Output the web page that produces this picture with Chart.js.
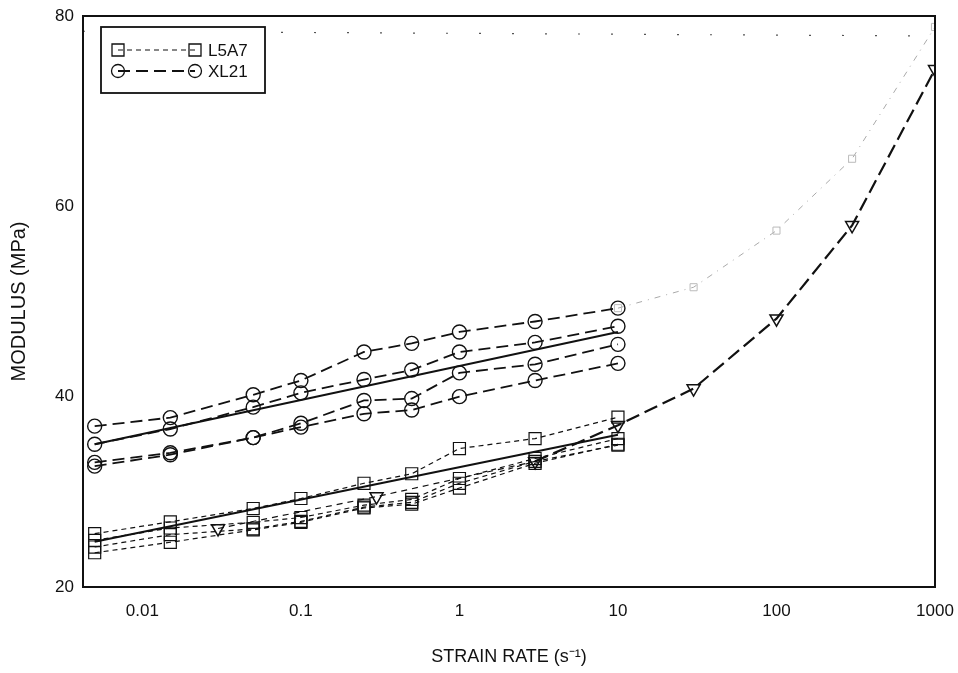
<!DOCTYPE html>
<html>
<head>
<meta charset="utf-8">
<script src="https://cdn.jsdelivr.net/npm/chart.js@4.4.1/dist/chart.umd.min.js"></script>
<style>
  body { margin: 0; background: #fff; }
  #wrap { width: 958px; height: 673px; }
</style>
</head>
<body>
<div id="wrap"><canvas id="myChart" width="958" height="673"></canvas></div>
<script>
    // strain rates of the quasi-static tests (s^-1)
    var rates = [0.005, 0.015, 0.05, 0.1, 0.25, 0.5, 1, 3, 10];

    // XL21 foam, four test runs
    var xl21RunA = [36.9, 37.8, 40.2, 41.7, 44.7, 45.6, 46.8, 47.9, 49.3];
    var xl21RunB = [35.0, 36.6, 38.9, 40.4, 41.8, 42.8, 44.7, 45.7, 47.4];
    var xl21RunC = [33.1, 34.1, 35.7, 37.2, 39.6, 39.8, 42.5, 43.4, 45.5];
    var xl21RunD = [32.7, 33.9, 35.7, 36.8, 38.2, 38.6, 40.0, 41.7, 43.5];
    var xl21FitRates = [0.005, 10];
    var xl21Fit = [35.0, 46.8];

    // L5A7 foam, four test runs
    var l5a7RunA = [25.6, 26.85, 28.25, 29.3, 30.9, 31.9, 34.55, 35.6, 37.85];
    var l5a7RunB = [24.9, 26.2, 26.8, 27.3, 28.6, 29.2, 31.4, 33.5, 35.6];
    var l5a7RunC = [24.2, 25.5, 26.1, 26.9, 28.4, 28.9, 30.9, 33.2, 34.9];
    var l5a7RunD = [23.6, 24.7, 26.0, 26.8, 28.3, 28.7, 30.4, 33.0, 35.0];
    var l5a7FitRates = [0.005, 10];
    var l5a7Fit = [24.75, 36.0];

    // high rate curve (triangles)
    var highRates = [0.03, 0.3, 3, 10, 30, 100, 300, 1000];
    var highModulus = [26.15, 29.5, 33.2, 37.0, 40.85, 48.2, 58.0, 74.4];

    // faint grey continuation of the top XL21 run
    var greyRates = [10, 30, 100, 300, 1000];
    var greyModulus = [49.3, 51.5, 57.45, 65.0, 78.85];

    // dotted reference line near the top
    var refRates = [0.00422, 1000];
    var refModulus = [78.4, 77.9];

    var xTickValues = [0.01, 0.1, 1, 10, 100, 1000];
    var xTickLabels = ['0.01', '0.1', '1', '10', '100', '1000'];
    var legendNames = ['L5A7', 'XL21'];

    function toPoints(xs, ys) {
        var pts = [];
        for (var i = 0; i < xs.length; i++) {
            pts.push({ x: xs[i], y: ys[i] });
        }
        return pts;
    }

    var ink = '#111';
    var none = 'rgba(0,0,0,0)';

    function circleRun(ys) {
        return {
            data: toPoints(rates, ys),
            showLine: true,
            borderColor: ink,
            borderWidth: 1.8,
            borderDash: [12, 6],
            pointStyle: 'circle',
            pointRadius: 7,
            pointBorderWidth: 1.4,
            pointBorderColor: ink,
            pointBackgroundColor: none,
        };
    }

    function squareRun(ys) {
        return {
            data: toPoints(rates, ys),
            showLine: true,
            borderColor: ink,
            borderWidth: 1.2,
            borderDash: [5, 4],
            pointStyle: 'rect',
            pointRadius: 8.5,
            pointBorderWidth: 1.2,
            pointBorderColor: ink,
            pointBackgroundColor: none,
        };
    }

    var datasets = [
        {
            data: toPoints(refRates, refModulus),
            showLine: true,
            borderColor: '#555',
            borderWidth: 1.2,
            borderDash: [2, 31],
            pointRadius: 0,
        },
        {
            data: toPoints(greyRates, greyModulus),
            showLine: true,
            borderColor: '#aaa',
            borderWidth: 1,
            borderDash: [6, 6, 1, 6],
            pointStyle: 'rect',
            pointRadius: 5,
            pointBorderWidth: 1,
            pointBorderColor: '#bbb',
            pointBackgroundColor: none,
        },
        circleRun(xl21RunA),
        circleRun(xl21RunB),
        circleRun(xl21RunC),
        circleRun(xl21RunD),
        {
            data: toPoints(xl21FitRates, xl21Fit),
            showLine: true,
            borderColor: ink,
            borderWidth: 2,
            pointRadius: 0,
        },
        squareRun(l5a7RunA),
        squareRun(l5a7RunB),
        squareRun(l5a7RunC),
        squareRun(l5a7RunD),
        {
            data: toPoints(l5a7FitRates, l5a7Fit),
            showLine: true,
            borderColor: ink,
            borderWidth: 2,
            pointRadius: 0,
        },
        {
            data: toPoints(highRates, highModulus),
            showLine: true,
            borderColor: ink,
            borderWidth: 2.2,
            borderDash: [14, 6],
            // thinner, shorter dashes below 3 s^-1
            segment: {
                borderWidth: function (c) { return c.p0.parsed.x < 2 ? 1.2 : 2.2; },
                borderDash: function (c) { return c.p0.parsed.x < 2 ? [6, 5] : [14, 6]; }
            },
            pointStyle: 'triangle',
            pointRotation: 180,
            pointRadius: 7.5,
            pointBorderWidth: 1.5,
            pointBorderColor: ink,
            pointBackgroundColor: none,
        },
    ];

    // black frame round the plot area
    var framePlugin = {
        id: 'frame',
        afterDraw: function (chart) {
            var a = chart.chartArea;
            var ctx = chart.ctx;
            ctx.save();
            ctx.strokeStyle = ink;
            ctx.lineWidth = 2;
            ctx.setLineDash([]);
            ctx.strokeRect(a.left, a.top, a.right - a.left, a.bottom - a.top);
            ctx.restore();
        }
    };

    // boxed legend in the upper left corner of the plot
    var boxLegendPlugin = {
        id: 'boxLegend',
        afterDraw: function (chart) {
            var a = chart.chartArea;
            var ctx = chart.ctx;
            var bx = a.left + 18, by = a.top + 11, bw = 164, bh = 66;
            ctx.save();
            ctx.fillStyle = '#fff';
            ctx.fillRect(bx, by, bw, bh);
            ctx.strokeStyle = ink;
            ctx.lineWidth = 1.8;
            ctx.strokeRect(bx, by, bw, bh);

            var rows = [
                { y: by + 23, dash: [5, 4], width: 1.2, marker: 'rect' },
                { y: by + 44, dash: [12, 6], width: 1.8, marker: 'circle' },
            ];
            var x0 = bx + 17, x1 = bx + 94;
            for (var i = 0; i < rows.length; i++) {
                var r = rows[i];
                ctx.strokeStyle = ink;
                ctx.lineWidth = r.width;
                ctx.setLineDash(r.dash);
                ctx.beginPath();
                ctx.moveTo(x0, r.y);
                ctx.lineTo(x1, r.y);
                ctx.stroke();
                ctx.setLineDash([]);
                ctx.lineWidth = 1.3;
                [x0, x1].forEach(function (px) {
                    ctx.beginPath();
                    if (r.marker === 'rect') {
                        ctx.rect(px - 6, r.y - 6, 12, 12);
                    } else {
                        ctx.arc(px, r.y, 6.5, 0, Math.PI * 2);
                    }
                    ctx.stroke();
                });
                ctx.fillStyle = ink;
                ctx.font = '17px "Liberation Sans", Arial, sans-serif';
                ctx.textBaseline = 'middle';
                ctx.fillText(legendNames[i], bx + 107, r.y + 1);
            }
            ctx.restore();
        }
    };

    var font = { family: '"Liberation Sans", Arial, sans-serif', size: 17 };

    const ctx = document.getElementById('myChart');
    new Chart(ctx, {
        type: 'scatter',
        data: { datasets: datasets },
        options: {
            responsive: false,
            animation: false,
            layout: { padding: { left: 0, top: 16, right: 23, bottom: 0 } },
            elements: { line: { tension: 0 } },
            plugins: {
                legend: { display: false },
                tooltip: { enabled: false }
            },
            scales: {
                x: {
                    type: 'logarithmic',
                    min: 0.00422,
                    max: 1000,
                    afterBuildTicks: function (scale) {
                        scale.ticks = xTickValues.map(function (v) { return { value: v }; });
                    },
                    afterFit: function (scale) {
                        scale.height = 86;
                        scale.paddingLeft = 0;
                        scale.paddingRight = 0;
                    },
                    grid: { display: false, drawTicks: false },
                    border: { display: false },
                    ticks: {
                        color: ink,
                        font: font,
                        padding: 14,
                        maxRotation: 0,
                        autoSkip: false,
                        callback: function (v, i) { return xTickLabels[i]; }
                    },
                    title: {
                        display: true,
                        text: 'STRAIN RATE (s\u207B\u00B9)',
                        color: ink,
                        font: { family: font.family, size: 18 },
                        padding: { top: 5, bottom: 5 }
                    }
                },
                y: {
                    min: 20,
                    max: 80,
                    afterFit: function (scale) {
                        scale.width = 83;
                        scale.paddingTop = 0;
                        scale.paddingBottom = 0;
                    },
                    grid: { display: false, drawTicks: false },
                    border: { display: false },
                    ticks: {
                        color: ink,
                        font: font,
                        padding: 9,
                        stepSize: 20
                    },
                    title: {
                        display: true,
                        text: 'MODULUS (MPa)',
                        color: ink,
                        font: { family: font.family, size: 20 },
                        padding: { top: 7, bottom: 7 }
                    }
                }
            }
        },
        plugins: [framePlugin, boxLegendPlugin]
    });
</script>
</body>
</html>
